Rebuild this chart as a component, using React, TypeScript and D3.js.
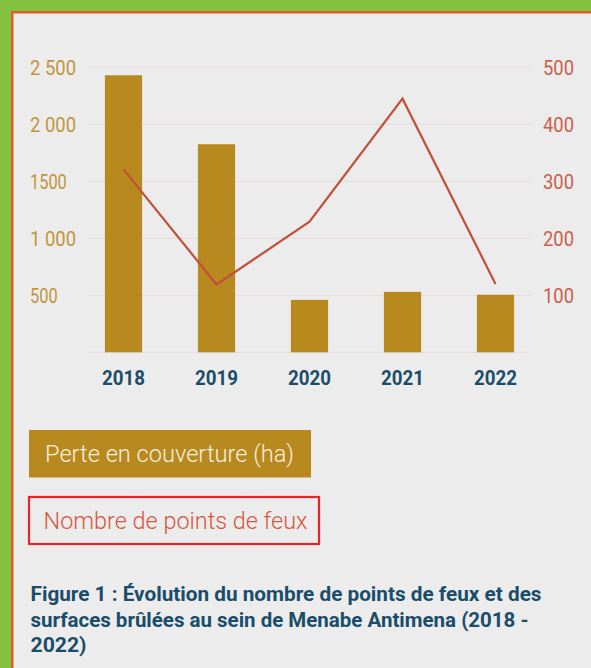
import React from "react";
import * as d3 from "d3";

const years = ["2018", "2019", "2020", "2021", "2022"];
const surfaceLoss = [2430, 1825, 460, 530, 505];
const firePoints = [321, 119, 229, 445, 120];
const leftTicks = [500, 1000, 1500, 2000, 2500];
const leftTickLabels = ["500", "1 000", "1500", "2 000", "2 500"];
const rightTicks = [100, 200, 300, 400, 500];
const legendLabels = ["Perte en couverture (ha)", "Nombre de points de feux"];
const captionLines = [
  "Figure 1 : Évolution du nombre de points de feux et des",
  "surfaces brûlées au sein de Menabe Antimena (2018 -",
  "2022)",
];

const W = 591;
const H = 668;
const FONT = "Roboto, 'Open Sans', sans-serif";
const GOLD = "#b8891f";
const GOLD_TEXT = "#c0953a";
const RED_TEXT = "#c9604b";
const LINE = "#c24f3b";
const NAVY = "#1a4d6b";

export default function App() {
  const x = d3
    .scaleBand<string>()
    .domain(years)
    .range([77, 542])
    .paddingInner(0.6)
    .paddingOuter(0.3);
  const yLeft = d3.scaleLinear().domain([0, 2500]).range([352.3, 67.3]);
  const yRight = d3.scaleLinear().domain([0, 500]).range([352.3, 67.3]);

  const cx = (yr: string) => (x(yr) ?? 0) + x.bandwidth() / 2;

  const line = d3
    .line<number>()
    .x((_, i) => cx(years[i]))
    .y((d) => yRight(d));

  // gridlines share the left axis ticks, plus the baseline
  const grid = [0, ...leftTicks];

  return (
    <svg
      width={W}
      height={H}
      style={{ position: "absolute", left: 0, top: 0, display: "block" }}
      fontFamily={FONT}
    >
      <rect x={0} y={0} width={W} height={H} fill="#83c240" />
      <rect x={11} y={11} width={W} height={H} fill="#e35b2c" />
      <rect x={13.5} y={13.5} width={W} height={H} fill="#ececec" />

      {grid.map((t) => (
        <line
          key={t}
          x1={88}
          x2={532}
          y1={yLeft(t)}
          y2={yLeft(t)}
          stroke="#eadcd9"
          strokeWidth={1}
        />
      ))}

      {leftTicks.map((t, i) => (
        <text
          key={t}
          x={30}
          y={yLeft(t)}
          dy="0.36em"
          fontSize={20}
          fill={GOLD_TEXT}
          textLength={leftTickLabels[i].length * 9.2}
          lengthAdjust="spacingAndGlyphs"
        >
          {leftTickLabels[i]}
        </text>
      ))}

      {rightTicks.map((t) => (
        <text
          key={t}
          x={543}
          y={yRight(t)}
          dy="0.36em"
          fontSize={20}
          fill={RED_TEXT}
          textLength={31}
          lengthAdjust="spacingAndGlyphs"
        >
          {t}
        </text>
      ))}

      {years.map((yr, i) => (
        <rect
          key={yr}
          x={x(yr)}
          y={yLeft(surfaceLoss[i])}
          width={x.bandwidth()}
          height={yLeft(0) - yLeft(surfaceLoss[i])}
          fill={GOLD}
        />
      ))}

      <path d={line(firePoints) ?? ""} fill="none" stroke={LINE} strokeWidth={2.2} />

      {years.map((yr) => (
        <text
          key={yr}
          x={cx(yr)}
          y={384.5}
          textAnchor="middle"
          fontSize={21}
          fontWeight={700}
          fill={NAVY}
          textLength={43}
          lengthAdjust="spacingAndGlyphs"
        >
          {yr}
        </text>
      ))}

      {/* legend */}
      <rect x={29} y={430} width={282} height={47.5} fill={GOLD} />
      <text
        x={45}
        y={462}
        fontSize={23}
        fontWeight={300}
        fill="#f6f0de"
        textLength={249}
        lengthAdjust="spacingAndGlyphs"
      >
        {legendLabels[0]}
      </text>
      <rect
        x={29}
        y={497}
        width={290}
        height={47}
        fill="none"
        stroke="#e8242b"
        strokeWidth={2.2}
      />
      <text
        x={43.5}
        y={528.5}
        fontSize={23}
        fontWeight={300}
        fill="#d9563c"
        textLength={264}
        lengthAdjust="spacingAndGlyphs"
      >
        {legendLabels[1]}
      </text>

      {captionLines.map((l, i) => (
        <text
          key={i}
          x={30.5}
          y={601 + i * 25.5}
          fontSize={20.5}
          fontWeight={700}
          fill={NAVY}
          textLength={i === 0 ? 511 : i === 1 ? 498 : 56}
          lengthAdjust="spacingAndGlyphs"
        >
          {l}
        </text>
      ))}
    </svg>
  );
}
